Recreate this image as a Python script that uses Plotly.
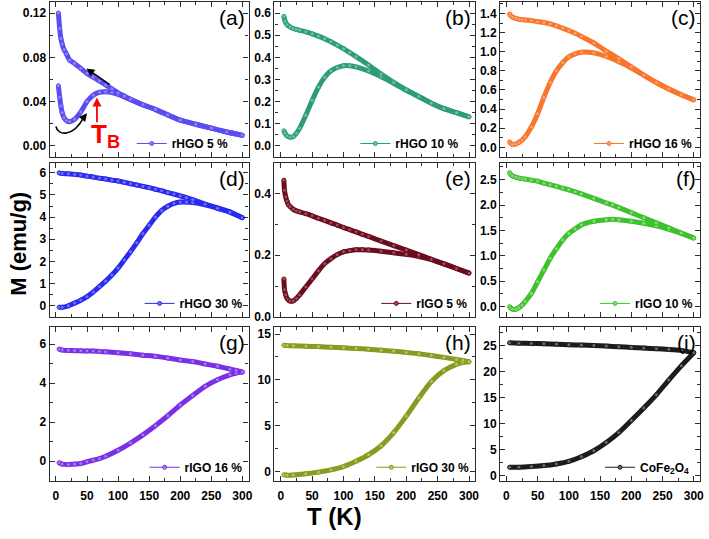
import plotly.graph_objects as go

# ---------------- data ----------------
# (a) rHGO 5 %
T_A = [4, 6, 8, 10, 13, 17, 22, 30, 40, 50, 60, 70, 80, 90, 100, 110, 120, 140, 160, 180, 200, 225, 250, 275, 300]
M_A_FC = [0.120, 0.106, 0.097, 0.092, 0.087, 0.083, 0.0775, 0.0745, 0.0700, 0.0655, 0.0620, 0.0586, 0.0550, 0.0515,
          0.0478, 0.0450, 0.0422, 0.0372, 0.0330, 0.0280, 0.0232, 0.0195, 0.0160, 0.0125, 0.0095]
M_A_ZFC = [0.0544, 0.0440, 0.0360, 0.0300, 0.0255, 0.0228, 0.0218, 0.0240, 0.0307, 0.0400, 0.0458, 0.0484, 0.0488,
           0.0482, 0.0466, 0.0443, 0.0418, 0.0370, 0.0328, 0.0280, 0.0232, 0.0195, 0.0160, 0.0125, 0.0095]

# (b) rHGO 10 %
T_B = [5, 7, 10, 15, 20, 25, 30, 40, 50, 60, 70, 80, 90, 100, 110, 120, 140, 160, 180, 200, 220, 240, 260, 280, 300]
M_B_FC = [0.585, 0.563, 0.548, 0.537, 0.530, 0.526, 0.522, 0.515, 0.506, 0.496, 0.484, 0.470, 0.455, 0.439, 0.421,
          0.403, 0.365, 0.324, 0.287, 0.253, 0.223, 0.193, 0.168, 0.150, 0.131]
M_B_ZFC = [0.068, 0.057, 0.045, 0.039, 0.042, 0.057, 0.079, 0.138, 0.205, 0.265, 0.310, 0.339, 0.354, 0.362, 0.362,
           0.357, 0.338, 0.312, 0.283, 0.251, 0.222, 0.193, 0.168, 0.150, 0.131]

# (c) rHGO 16 %
T_C = [5, 7, 10, 15, 20, 25, 30, 40, 50, 60, 70, 80, 90, 100, 110, 120, 140, 160, 180, 200, 220, 240, 260, 280, 300]
M_C_FC = [1.394, 1.377, 1.360, 1.349, 1.339, 1.335, 1.332, 1.325, 1.315, 1.305, 1.291, 1.270, 1.246, 1.222, 1.192,
          1.160, 1.091, 1.005, 0.926, 0.843, 0.754, 0.678, 0.610, 0.550, 0.497]
M_C_ZFC = [0.058, 0.041, 0.031, 0.034, 0.052, 0.076, 0.110, 0.213, 0.351, 0.523, 0.678, 0.799, 0.885, 0.947, 0.978,
           0.995, 0.988, 0.950, 0.895, 0.830, 0.754, 0.678, 0.610, 0.550, 0.497]

# (d) rHGO 30 %
T_D = [5, 10, 20, 30, 40, 50, 60, 70, 80, 90, 100, 110, 120, 130, 140, 150, 160, 170, 180, 190, 200, 210, 220, 240,
       260, 280, 300]
M_D_FC = [6.00, 5.97, 5.96, 5.93, 5.90, 5.85, 5.81, 5.76, 5.72, 5.67, 5.63, 5.57, 5.51, 5.45, 5.39, 5.33, 5.26, 5.19,
          5.11, 5.04, 4.96, 4.88, 4.79, 4.59, 4.40, 4.22, 3.97]
M_D_ZFC = [-0.07, -0.07, 0.00, 0.12, 0.25, 0.41, 0.62, 0.86, 1.11, 1.39, 1.70, 2.07, 2.44, 2.84, 3.26, 3.63, 4.00,
           4.30, 4.49, 4.62, 4.68, 4.68, 4.66, 4.56, 4.42, 4.24, 3.97]

# (e) rIGO 5 %
T_E = [5, 6, 8, 10, 12, 15, 20, 25, 30, 40, 50, 60, 70, 80, 90, 100, 110, 120, 130, 140, 160, 180, 200, 220, 240, 260,
       280, 300]
M_E_FC = [0.444, 0.411, 0.389, 0.376, 0.365, 0.358, 0.349, 0.344, 0.341, 0.335, 0.328, 0.320, 0.313, 0.305, 0.298,
          0.290, 0.283, 0.276, 0.268, 0.261, 0.246, 0.231, 0.217, 0.202, 0.187, 0.172, 0.157, 0.142]
M_E_ZFC = [0.123, 0.088, 0.071, 0.060, 0.055, 0.051, 0.052, 0.060, 0.071, 0.097, 0.123, 0.149, 0.173, 0.189, 0.202,
           0.211, 0.215, 0.218, 0.218, 0.217, 0.213, 0.208, 0.203, 0.196, 0.186, 0.172, 0.157, 0.142]

# (f) rIGO 10 %
T_F = [5, 7, 10, 15, 20, 25, 30, 40, 50, 60, 70, 80, 90, 100, 110, 120, 140, 160, 170, 180, 200, 220, 240, 260, 280, 300]
M_F_FC = [2.64, 2.60, 2.57, 2.55, 2.53, 2.52, 2.51, 2.49, 2.47, 2.43, 2.40, 2.37, 2.33, 2.30, 2.26, 2.22, 2.13, 2.04,
          2.00, 1.95, 1.85, 1.75, 1.65, 1.55, 1.45, 1.35]
M_F_ZFC = [0.00, -0.03, -0.05, -0.05, -0.02, 0.03, 0.10, 0.26, 0.49, 0.72, 0.95, 1.14, 1.31, 1.44, 1.53, 1.61, 1.68,
           1.71, 1.72, 1.71, 1.68, 1.64, 1.59, 1.52, 1.44, 1.35]

# (g) rIGO 16 %
T_G = [5, 10, 20, 30, 40, 50, 60, 70, 80, 100, 120, 140, 160, 180, 200, 220, 240, 260, 280, 290, 300]
M_G_FC = [5.75, 5.70, 5.68, 5.67, 5.66, 5.655, 5.65, 5.63, 5.61, 5.56, 5.51, 5.44, 5.38, 5.29, 5.19, 5.11, 4.99, 4.87,
          4.73, 4.66, 4.57]
M_G_ZFC = [-0.08, -0.15, -0.17, -0.15, -0.12, -0.03, 0.05, 0.13, 0.25, 0.56, 0.93, 1.35, 1.82, 2.33, 2.88, 3.37, 3.84,
           4.18, 4.43, 4.52, 4.57]

# (h) rIGO 30 %
T_H = [5, 10, 20, 40, 60, 80, 100, 120, 140, 160, 180, 200, 220, 240, 260, 280, 290, 300]
M_H_FC = [13.78, 13.74, 13.71, 13.67, 13.63, 13.56, 13.49, 13.42, 13.35, 13.24, 13.13, 12.99, 12.84, 12.66, 12.45,
          12.23, 12.12, 11.98]
M_H_ZFC = [-0.36, -0.40, -0.38, -0.25, -0.07, 0.18, 0.54, 1.12, 1.83, 2.81, 4.24, 6.04, 8.02, 9.82, 11.00, 11.69,
           11.88, 11.98]

# (i) CoFe2O4
T_I = [5, 20, 40, 60, 80, 100, 120, 140, 160, 180, 200, 220, 240, 260, 280, 300]
M_I_FC = [25.50, 25.44, 25.38, 25.32, 25.25, 25.13, 25.06, 25.00, 24.87, 24.75, 24.62, 24.49, 24.37, 24.24, 24.05, 23.60]
M_I_ZFC = [1.58, 1.58, 1.71, 1.90, 2.22, 2.72, 3.61, 4.75, 6.33, 8.23, 10.57, 12.97, 15.50, 18.35, 21.08, 23.60]

LABELS = ["rHGO 5 %", "rHGO 10 %", "rHGO 16 %", "rHGO 30 %", "rIGO 5 %", "rIGO 10 %",
          "rIGO 16 %", "rIGO 30 %", "CoFe<sub>2</sub>O<sub>4</sub>"]
TAGS = ["(a)", "(b)", "(c)", "(d)", "(e)", "(f)", "(g)", "(h)", "(i)"]
X_TICKS = [0, 50, 100, 150, 200, 250, 300]

PANELS = [(T_A, M_A_ZFC, M_A_FC), (T_B, M_B_ZFC, M_B_FC), (T_C, M_C_ZFC, M_C_FC),
          (T_D, M_D_ZFC, M_D_FC), (T_E, M_E_ZFC, M_E_FC), (T_F, M_F_ZFC, M_F_FC),
          (T_G, M_G_ZFC, M_G_FC), (T_H, M_H_ZFC, M_H_FC), (T_I, M_I_ZFC, M_I_FC)]

# ---------------- styles ----------------
COLORS = ["#5a4cf0", "#2e9c78", "#f8762c", "#2a2af0", "#6a0d1c", "#3fc02e", "#7a2ee6", "#879a22", "#1c1c1c"]
FILLS = ["#8f86f6", "#6cc3a4", "#fba070", "#7272f6", "#a04a5c", "#86dc78", "#a77af0", "#b7c45c", "#6a6a6a"]
Y_CFG = [  # range, dtick, minor dtick, format
    ([-0.01, 0.13], 0.04, 0.02, ".2f"),
    ([-0.05, 0.65], 0.1, 0.05, ".1f"),
    ([-0.10, 1.52], 0.2, 0.1, ".1f"),
    ([-0.5, 6.45], 1, 0.5, "d"),
    ([0.0, 0.50], 0.2, 0.1, ".1f"),
    ([-0.2, 2.83], 0.5, 0.25, ".1f"),
    ([-1.0, 6.9], 2, 1, "d"),
    ([-1.0, 15.8], 5, 2.5, "d"),
    ([-1.0, 28.6], 5, 2.5, "d"),
]
LEGEND_GAP_PX = [15, 11, 2, 0, 2, 2, 1, 1, 5]
X_DOMAINS = [[50 / 709, 250 / 709], [276 / 709, 478 / 709], [503 / 709, 704 / 709]]
Y_DOMAINS = [[1 - 159 / 539, 1 - 2 / 539], [1 - 321 / 539, 1 - 165 / 539], [1 - 487 / 539, 1 - 331 / 539]]

FONT = "Arial, Liberation Sans, sans-serif"
AX = "#2b2b2b"

fig = go.Figure()
layout = dict(
    width=709, height=539,
    margin=dict(l=0, r=0, t=0, b=0),
    paper_bgcolor="white", plot_bgcolor="white",
    font=dict(family=FONT, color="black"),
    annotations=[], shapes=[],
)

for k, (T, zfc, fc) in enumerate(PANELS):
    s = "" if k == 0 else str(k + 1)
    r, c = divmod(k, 3)
    col = COLORS[k]
    common = dict(xaxis="x" + s, yaxis="y" + s, hoverinfo="skip", legend="legend" + s)
    for ys in (zfc, fc):
        fig.add_trace(go.Scatter(x=T, y=ys, mode="lines", showlegend=False,
                                 line=dict(color=col, width=5, shape="spline", smoothing=0.5), **common))
    for i, ys in enumerate((zfc, fc)):
        fig.add_trace(go.Scatter(x=T, y=ys, mode="lines+markers", name=LABELS[k], showlegend=(i == 1),
                                 line=dict(color=col, width=1, shape="spline", smoothing=0.5),
                                 marker=dict(symbol="circle", size=4, color=FILLS[k],
                                             line=dict(color=col, width=1)), **common))
    yr, dt, mdt, fmt = Y_CFG[k]
    layout["xaxis" + s] = dict(
        domain=X_DOMAINS[c], anchor="y" + s, range=[-10, 310],
        tickvals=X_TICKS, showticklabels=(r == 2), ticklabelstandoff=4,
        ticks="inside", ticklen=5, tickwidth=1.2, tickcolor=AX,
        minor=dict(ticks="inside", ticklen=3, dtick=25, tick0=0, tickcolor=AX, tickwidth=1),
        showline=True, linecolor=AX, linewidth=1.3, mirror="allticks",
        showgrid=False, zeroline=False,
        tickfont=dict(size=12, family=FONT, weight="bold", color="black"),
    )
    layout["yaxis" + s] = dict(
        domain=Y_DOMAINS[r], anchor="x" + s, range=yr,
        dtick=dt, tick0=0, tickformat=fmt,
        ticks="inside", ticklen=5, tickwidth=1.2, tickcolor=AX,
        minor=dict(ticks="inside", ticklen=3, dtick=mdt, tick0=0, tickcolor=AX, tickwidth=1),
        showline=True, linecolor=AX, linewidth=1.3, mirror="allticks",
        showgrid=False, zeroline=False,
        tickfont=dict(size=12, family=FONT, weight="bold", color="black"),
    )
    layout["legend" + s] = dict(
        x=X_DOMAINS[c][1] - LEGEND_GAP_PX[k] / 709, y=Y_DOMAINS[r][0] - 0.002,
        xanchor="right", yanchor="bottom", bgcolor="rgba(0,0,0,0)",
        font=dict(size=12, family=FONT, weight="bold", color="black"),
        itemwidth=30, tracegroupgap=0,
    )
    layout["annotations"].append(dict(
        text=TAGS[k], xref="x" + s + " domain", yref="y" + s + " domain",
        x=0.99, y=0.985, xanchor="right", yanchor="top", showarrow=False,
        font=dict(size=21, family=FONT, color="black"),
    ))

# axis titles
layout["annotations"].append(dict(text="<b>M (emu/g)</b>", xref="paper", yref="paper", x=0.027, y=0.542,
                                  xanchor="center", yanchor="middle",
                                  textangle=-90, showarrow=False, font=dict(size=22, family=FONT)))
layout["annotations"].append(dict(text="<b>T (K)</b>", xref="paper", yref="paper", x=0.475, y=0.030,
                                  xanchor="center", yanchor="middle",
                                  showarrow=False, font=dict(size=24, family=FONT)))

# panel (a) decorations: FC / ZFC arrows and T_B marker
layout["annotations"] += [
    dict(x=49, y=0.070, ax=89, ay=0.0544, xref="x", yref="y", axref="x", ayref="y", text="",
         showarrow=True, arrowhead=2, arrowsize=1, arrowwidth=1.6, arrowcolor="black"),
    dict(x=66, y=0.0438, ax=66, ay=0.0200, xref="x", yref="y", axref="x", ayref="y", text="",
         showarrow=True, arrowhead=2, arrowsize=1, arrowwidth=1.8, arrowcolor="red"),
    dict(x=50, y=0.0295, ax=43, ay=0.0245, xref="x", yref="y", axref="x", ayref="y", text="",
         showarrow=True, arrowhead=2, arrowsize=1, arrowwidth=1.6, arrowcolor="black"),
    dict(x=54, y=0.0095, xref="x", yref="y", xanchor="left", yanchor="middle", showarrow=False,
         text="<b>T<sub>B</sub></b>", font=dict(size=26, family=FONT, color="red")),
]
layout["shapes"].append(dict(type="path", xref="x", yref="y",
                             path="M 0,0.0175 C 3,0.009 28,0.008 44,0.025",
                             line=dict(color="black", width=1.6)))

fig.update_layout(**layout)
fig.write_html("out.html", config={"displayModeBar": False},
               post_script="document.body.style.margin='0';")
